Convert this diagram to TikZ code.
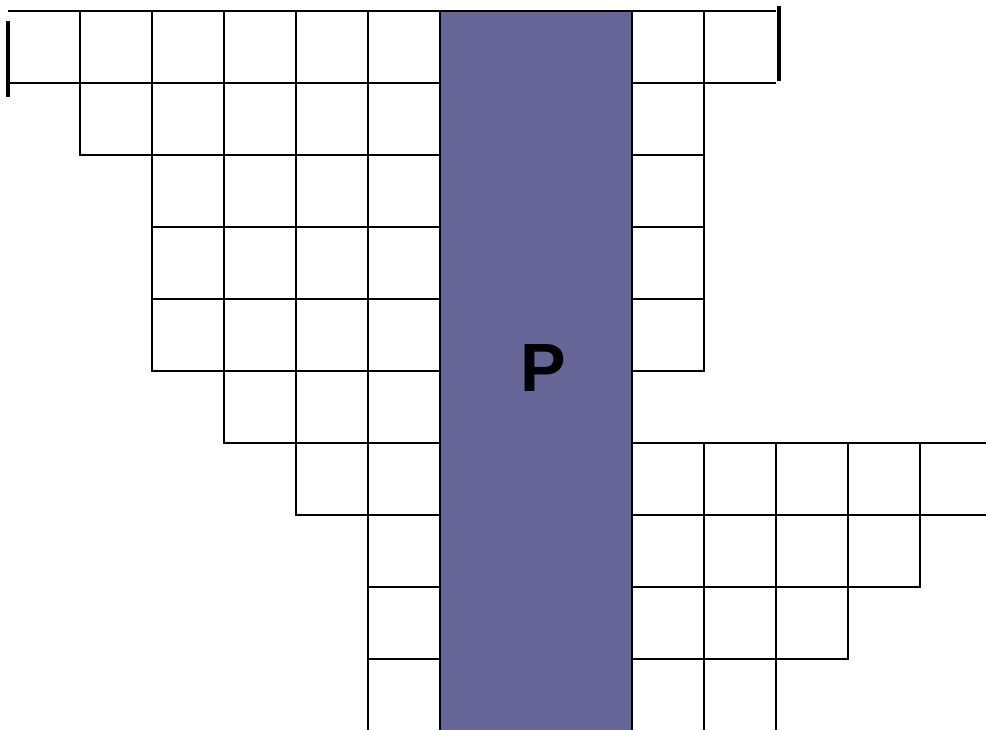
\documentclass[tikz,border=0pt]{standalone}
\usepackage{fontspec}
\setmainfont{Liberation Sans}
\definecolor{pband}{RGB}{102,102,153}

\begin{document}
\begin{tikzpicture}[y=-1cm, line width=0.8pt]
        \useasboundingbox (-0.111,-0.153) rectangle (13.583,9.972);
        % top row
        \draw (0,0) -- (10.667,0);
        \draw (0,1) -- (10.667,1);
        \foreach \c in {1,...,5} \draw (\c,0) -- (\c,1);
        \draw (9.667,0) -- (9.667,1);
        \draw[line width=1.2pt] (0,0.139) -- (0,1.194);
        \draw[line width=1.2pt] (10.708,-0.069) -- (10.708,0.972);
        % left staircase
        \foreach \r/\s in {1/1,2/2,3/2,4/2,5/3,6/4,7/5,8/5,9/5}
            \foreach \c in {\s,...,5} \draw (\c,\r) rectangle ++(1,1);
        % right staircase
        \foreach \r/\n in {1/1,2/1,3/1,4/1,6/5,7/4,8/3,9/2}
            \foreach \k in {1,...,\n} \draw ({7.667+\k},\r) rectangle ++(1,1);
        % column P
        \filldraw[fill=pband] (6,0) rectangle (8.667,10);
        \node[font=\bfseries\fontsize{27}{30}\selectfont] (P) at (7.43,4.96) {P};
    \end{tikzpicture}
\end{document}
